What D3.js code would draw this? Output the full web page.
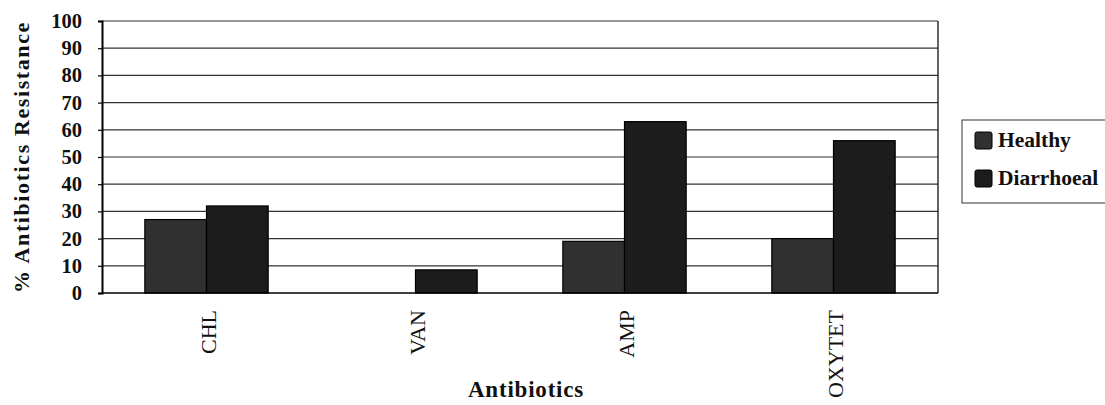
<!DOCTYPE html>
<html>
<head>
<meta charset="utf-8">
<script src="https://cdn.jsdelivr.net/npm/d3@7"></script>
<style>
  html, body { margin: 0; padding: 0; background: #fff; }
  svg { display: block; }
</style>
</head>
<body>
<svg id="chart" width="1105" height="405"></svg>
<script>
// Resistance (%) of isolates from healthy and diarrhoeal animals
const antibiotics = ["CHL", "VAN", "AMP", "OXYTET"];
const seriesNames = ["Healthy", "Diarrhoeal"];
const healthy = [27, 0, 19, 20];
const diarrhoeal = [32, 8.5, 63, 56];
const yTicks = [0, 10, 20, 30, 40, 50, 60, 70, 80, 90, 100];

const colors = { Healthy: "#303030", Diarrhoeal: "#1c1c1c" };
const serif = "'Liberation Serif', 'Times New Roman', serif";

const svg = d3.select("#chart");
const margin = { left: 102, right: 167, top: 21, bottom: 112 };
const W = 1105, H = 405;
const x0 = margin.left, x1 = W - margin.right;
const y0 = H - margin.bottom, y1 = margin.top;

const x = d3.scaleBand().domain(antibiotics).range([x0, x1])
  .paddingInner(0.41).paddingOuter(0.205);
const xs = d3.scaleBand().domain(seriesNames).range([0, x.bandwidth()]);
const y = d3.scaleLinear().domain([0, 100]).range([y0, y1]);

// horizontal gridlines
svg.append("g").selectAll("line").data(yTicks.filter(t => t > 0)).join("line")
  .attr("x1", x0).attr("x2", x1)
  .attr("y1", d => y(d)).attr("y2", d => y(d))
  .attr("stroke", "#333").attr("stroke-width", 1.2);

// right border
svg.append("line").attr("x1", x1).attr("x2", x1).attr("y1", y1).attr("y2", y0)
  .attr("stroke", "#222").attr("stroke-width", 1.4);

// bars
const rows = antibiotics.map((a, i) => ({ a, values: [
  { s: "Healthy", v: healthy[i] }, { s: "Diarrhoeal", v: diarrhoeal[i] }] }));
svg.append("g").selectAll("g").data(rows).join("g")
  .attr("transform", d => `translate(${x(d.a)},0)`)
  .selectAll("rect").data(d => d.values.filter(e => e.v > 0)).join("rect")
  .attr("x", d => xs(d.s)).attr("width", xs.bandwidth())
  .attr("y", d => y(d.v)).attr("height", d => y(0) - y(d.v))
  .attr("fill", d => colors[d.s]).attr("stroke", "#000").attr("stroke-width", 1.2);

// y axis
const yAxis = svg.append("g").attr("transform", `translate(${x0},0)`)
  .call(d3.axisLeft(y).tickValues(yTicks).tickSize(4).tickPadding(16));
yAxis.select(".domain").attr("stroke", "#000").attr("stroke-width", 2);
yAxis.selectAll(".tick line").attr("stroke", "#000").attr("stroke-width", 1.2);
yAxis.selectAll(".tick text")
  .attr("font-family", serif).attr("font-weight", "bold").attr("font-size", 20.5)
  .attr("fill", "#111");

// x baseline
svg.append("line").attr("x1", x0).attr("x2", x1).attr("y1", y0).attr("y2", y0)
  .attr("stroke", "#000").attr("stroke-width", 1.6);

// category labels, rotated
svg.append("g").selectAll("text").data(antibiotics).join("text")
  .attr("transform", d => `translate(${x(d) + x.bandwidth() / 2 + 2},${y0 + 17}) rotate(-90)`)
  .attr("text-anchor", "end").attr("dy", "0.35em")
  .attr("font-family", serif).attr("font-size", 22).attr("fill", "#111")
  .text(d => d);

// axis titles
svg.append("text")
  .attr("x", (x0 + x1) / 2 + 6).attr("y", 397)
  .attr("text-anchor", "middle")
  .attr("font-family", serif).attr("font-weight", "bold").attr("font-size", 23)
  .attr("letter-spacing", 0.8)
  .attr("fill", "#111").text("Antibiotics");

svg.append("text")
  .attr("transform", `translate(29,${(y0 + y1) / 2}) rotate(-90)`)
  .attr("text-anchor", "middle")
  .attr("font-family", serif).attr("font-weight", "bold").attr("font-size", 22)
  .attr("letter-spacing", 1.6)
  .attr("fill", "#111").text("% Antibiotics Resistance");

// legend
const lg = svg.append("g").attr("transform", "translate(962,120)");
lg.append("rect").attr("x", 0).attr("y", 0).attr("width", 160).attr("height", 83)
  .attr("fill", "#fff").attr("stroke", "#333").attr("stroke-width", 1);
lg.selectAll("g.item").data(seriesNames).join("g").attr("class", "item")
  .attr("transform", (d, i) => `translate(13,${12 + i * 38})`)
  .call(g => {
    g.append("rect").attr("width", 17).attr("height", 17).attr("rx", 2)
      .attr("fill", d => colors[d]).attr("stroke", "#000").attr("stroke-width", 1);
    g.append("text").attr("x", 23).attr("y", 15)
      .attr("font-family", serif).attr("font-weight", "bold").attr("font-size", 21.5)
      .attr("fill", "#111").text(d => d);
  });
</script>
</body>
</html>
